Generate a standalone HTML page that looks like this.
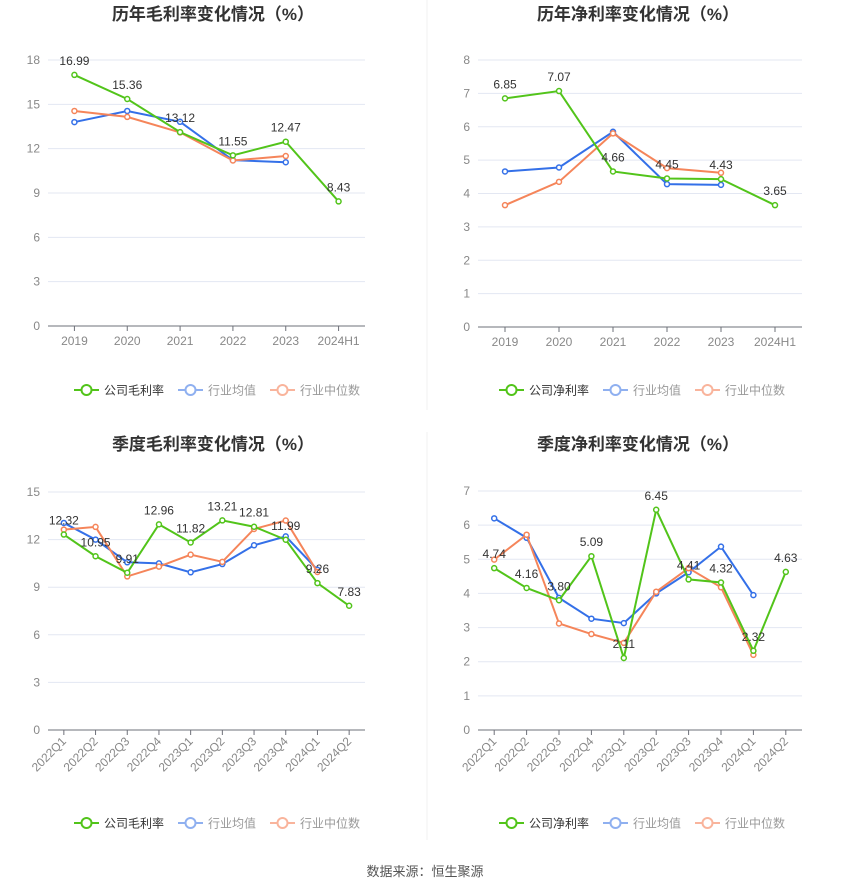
<!DOCTYPE html>
<html><head><meta charset="utf-8">
<style>
body{margin:0;background:#fff;width:850px;height:891px;overflow:hidden;font-family:"Liberation Sans","Noto Sans CJK SC",sans-serif;}
svg{display:block}
</style></head>
<body>
<svg id="root" width="850" height="891" xmlns="http://www.w3.org/2000/svg">
<line x1="427" y1="0" x2="427" y2="410" stroke="#f0f0f0"/>
<line x1="427" y1="432" x2="427" y2="840" stroke="#f0f0f0"/>
<text x="425" y="876" text-anchor="middle" font-size="13" fill="#555">数据来源：恒生聚源</text>
</svg>
<script>
const annualCats=["2019","2020","2021","2022","2023","2024H1"];
const quarterCats=["2022Q1","2022Q2","2022Q3","2022Q4","2023Q1","2023Q2","2023Q3","2023Q4","2024Q1","2024Q2"];
const grossCompany=[16.99,15.36,13.12,11.55,12.47,8.43];
const grossAvg=[13.8,14.55,13.82,11.22,11.08];
const grossMedian=[14.55,14.15,13.1,11.2,11.5];
const grossTicks=[0,3,6,9,12,15,18];
const netCompany=[6.85,7.07,4.66,4.45,4.43,3.65];
const netAvg=[4.66,4.78,5.85,4.28,4.26];
const netMedian=[3.65,4.35,5.8,4.76,4.62];
const netTicks=[0,1,2,3,4,5,6,7,8];
const qGrossCompany=[12.32,10.95,9.91,12.96,11.82,13.21,12.81,11.99,9.26,7.83];
const qGrossAvg=[13.05,12.0,10.57,10.5,9.94,10.46,11.64,12.2,10.1];
const qGrossMedian=[12.63,12.8,9.68,10.3,11.05,10.6,12.67,13.2,9.96];
const qGrossTicks=[0,3,6,9,12,15];
const qNetCompany=[4.74,4.16,3.80,5.09,2.11,6.45,4.41,4.32,2.32,4.63];
const qNetAvg=[6.2,5.63,3.87,3.26,3.13,4.0,4.62,5.37,3.95];
const qNetMedian=[4.99,5.72,3.12,2.81,2.55,4.05,4.74,4.18,2.2];
const qNetTicks=[0,1,2,3,4,5,6,7];

const NS="http://www.w3.org/2000/svg";
const root=document.getElementById('root');
function mk(tag,attrs,parent){const e=document.createElementNS(NS,tag);for(const k in attrs)e.setAttribute(k,attrs[k]);(parent||root).appendChild(e);return e;}
const GREEN="#52c41a",BLUE="#3470e8",ORANGE="#f5855a";

function chart(o){
  const g=mk('g',{});
  
  
  const t=mk('text',{x:o.cx,y:o.titleY,'text-anchor':'middle','font-size':17,'font-weight':'bold',fill:'#333'},g);
  t.textContent=o.title;
  
  
  const max=o.ticks[o.ticks.length-1];
  const y=v=>o.bottom-(v/max)*(o.bottom-o.top);
  const n=o.cats.length;
  const step=(o.x1-o.x0)/n;
  const x=i=>o.x0+step*(i+0.5);
  o.ticks.forEach(tv=>{
    const yy=y(tv);
    if(tv>0){const l=mk('line',{x1:o.x0,x2:o.x1,y1:yy,y2:yy,stroke:'#e3e7f2'},g);
      
      }
    const tl=mk('text',{x:o.x0-8,y:yy+4,'text-anchor':'end','font-size':12,fill:'#888'},g);
    tl.textContent=tv;
    
    
  });
  const ax=mk('line',{x1:o.x0,x2:o.x1,y1:o.bottom,y2:o.bottom,stroke:'#6e7079'},g);
  
  
  o.cats.forEach((c,i)=>{
    const tk=mk('line',{x1:x(i),x2:x(i),y1:o.bottom,y2:o.bottom+5,stroke:'#6e7079'},g);
    
    
    let lb;
    if(o.rot){lb=mk('text',{x:x(i)+3,y:o.bottom+12,'text-anchor':'end','font-size':12,fill:'#888',transform:`rotate(-45 ${x(i)+3} ${o.bottom+12})`},g);}
    else lb=mk('text',{x:x(i),y:o.bottom+19,'text-anchor':'middle','font-size':12,fill:'#888'},g);
    lb.textContent=c;
    
    
  });
  const series=[[o.avg,BLUE,'industry-average'],[o.med,ORANGE,'industry-median'],[o.comp,GREEN,'company']];
  series.forEach(([d,col,nm])=>{
    const p=mk('polyline',{points:d.map((v,i)=>x(i)+','+y(v)).join(' '),fill:'none',stroke:col,'stroke-width':2},g);
    
    
    d.forEach((v,i)=>{
      const c=mk('circle',{cx:x(i),cy:y(v),r:2.5,fill:'#fff',stroke:col,'stroke-width':1.5},g);
      
      
    });
  });
  o.comp.forEach((v,i)=>{
    const l=mk('text',{x:x(i),y:y(v)-10,'text-anchor':'middle','font-size':12,fill:'#333'},g);
    l.textContent=v.toFixed(2);
    
    
  });
  // legend
  const ly=o.legendY;let lx=o.cx-139;
  const items=[[o.compName,GREEN,'#333'],['行业均值','#8fb0f0','#999'],['行业中位数','#f9b49c','#999']];
  items.forEach(([nm,col,tc],k)=>{
    const lg=mk('g',{},g);
    
    
    mk('line',{x1:lx,x2:lx+25,y1:ly,y2:ly,stroke:col,'stroke-width':2},lg);
    mk('circle',{cx:lx+12.5,cy:ly,r:5,fill:'#fff',stroke:col,'stroke-width':2},lg);
    const tt=mk('text',{x:lx+30,y:ly+4.5,'font-size':12,fill:tc},lg);
    tt.textContent=nm;
    lx+=30+(nm.length*12)+14;
  });
}
chart({name:'annual-gross-margin-chart',title:'历年毛利率变化情况（%）',cx:213,titleY:20,top:60,bottom:326,x0:48,x1:365,cats:annualCats,comp:grossCompany,avg:grossAvg,med:grossMedian,ticks:grossTicks,legendY:390,compName:'公司毛利率'});
chart({name:'annual-net-margin-chart',title:'历年净利率变化情况（%）',cx:638,titleY:20,top:60,bottom:327,x0:478,x1:802,cats:annualCats,comp:netCompany,avg:netAvg,med:netMedian,ticks:netTicks,legendY:390,compName:'公司净利率'});
chart({name:'quarterly-gross-margin-chart',title:'季度毛利率变化情况（%）',cx:213,titleY:450,top:492,bottom:730,x0:48,x1:365,cats:quarterCats,comp:qGrossCompany,avg:qGrossAvg,med:qGrossMedian,ticks:qGrossTicks,legendY:823,compName:'公司毛利率',rot:true});
chart({name:'quarterly-net-margin-chart',title:'季度净利率变化情况（%）',cx:638,titleY:450,top:491,bottom:730,x0:478,x1:802,cats:quarterCats,comp:qNetCompany,avg:qNetAvg,med:qNetMedian,ticks:qNetTicks,legendY:823,compName:'公司净利率',rot:true});
</script>
</body></html>
